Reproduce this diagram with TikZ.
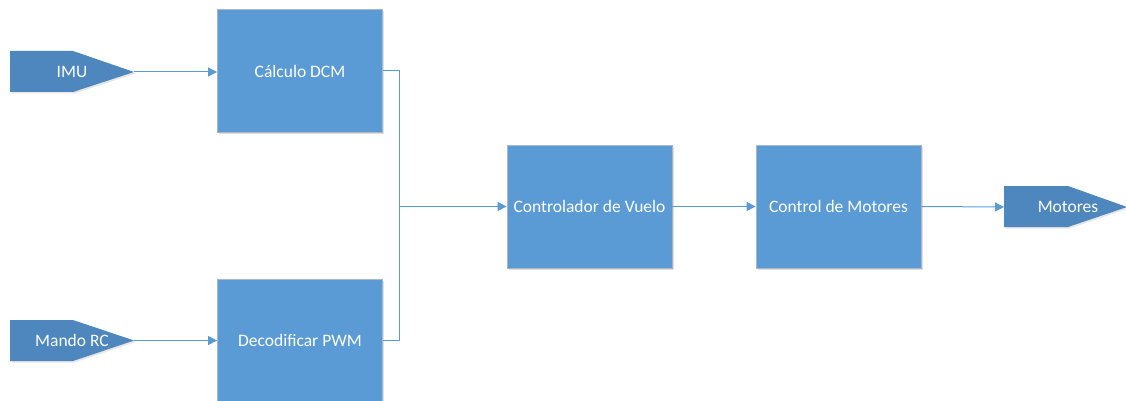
\documentclass[tikz,border=0pt]{standalone}
\usepackage{fontspec}
\setmainfont{Carlito}
\usetikzlibrary{arrows.meta,shadows}
\definecolor{boxblue}{HTML}{5B9BD5}
\definecolor{ioblue}{HTML}{4D87BD}
\definecolor{lineblue}{HTML}{5B9BD5}
\definecolor{edgegray}{HTML}{A9B8C8}
\begin{document}
\begin{tikzpicture}[x=1pt,y=-1pt,
  blk/.style={draw=edgegray,line width=0.8pt,fill=boxblue,minimum width=165pt,minimum height=123pt,inner sep=0pt,text=white,font=\fontsize{17.5}{21}\selectfont,
     drop shadow={shadow xshift=1.5pt,shadow yshift=-1.5pt,opacity=0.25,fill=gray}},
  iotxt/.style={text=white,font=\fontsize{17.5}{21}\selectfont,inner sep=0pt},
  conn/.style={draw=lineblue,line width=1pt},
  arr/.style={conn,-{Triangle[length=9pt,width=9pt]}}]
\useasboundingbox (0,0) rectangle (1126,401);
% blocks
\node[blk] (dcm) at (300,71) {Cálculo DCM};
\node[blk] (pwm) at (300,340.5) {Decodificar PWM};
\node[blk] (ctrl) at (589.5,206.5) {Controlador de Vuelo};
\node[blk] (mot) at (838.5,206.5) {Control de Motores};
% io shapes
\fill[ioblue,drop shadow={shadow xshift=1.5pt,shadow yshift=-1.5pt,opacity=0.2,fill=gray}] (10,51) -- (73,51) -- (134,72) -- (73,92) -- (10,92) -- cycle;
\coordinate (imuT) at (134,72);
\node[iotxt] (imu) at (72,72) {IMU};
\fill[ioblue,drop shadow={shadow xshift=1.5pt,shadow yshift=-1.5pt,opacity=0.2,fill=gray}] (10,320) -- (73,320) -- (134,340.5) -- (73,361) -- (10,361) -- cycle;
\coordinate (rcT) at (134,340.5);
\node[iotxt] (rc) at (72,340.5) {Mando RC};
\fill[ioblue,drop shadow={shadow xshift=1.5pt,shadow yshift=-1.5pt,opacity=0.2,fill=gray}] (1004,186) -- (1068,186) -- (1127,207) -- (1068,227) -- (1004,227) -- cycle;
\coordinate (motL) at (1004,207);
\node[iotxt] (motores) at (1068,207) {Motores};
% connectors
\draw[arr] (imuT) -- (dcm.west|-imuT);
\draw[arr] (rcT) -- (pwm.west|-rcT);
\coordinate (j) at (399,206.5);
\draw[conn] (dcm.east) -- (dcm.east-|j) -- (pwm.east-|j) -- (pwm.east);
\draw[arr] (j) -- (ctrl.west);
\draw[arr] (ctrl.east) -- (mot.west);
\draw[arr] (mot.east) -- (motL);
\end{tikzpicture}
\end{document}
